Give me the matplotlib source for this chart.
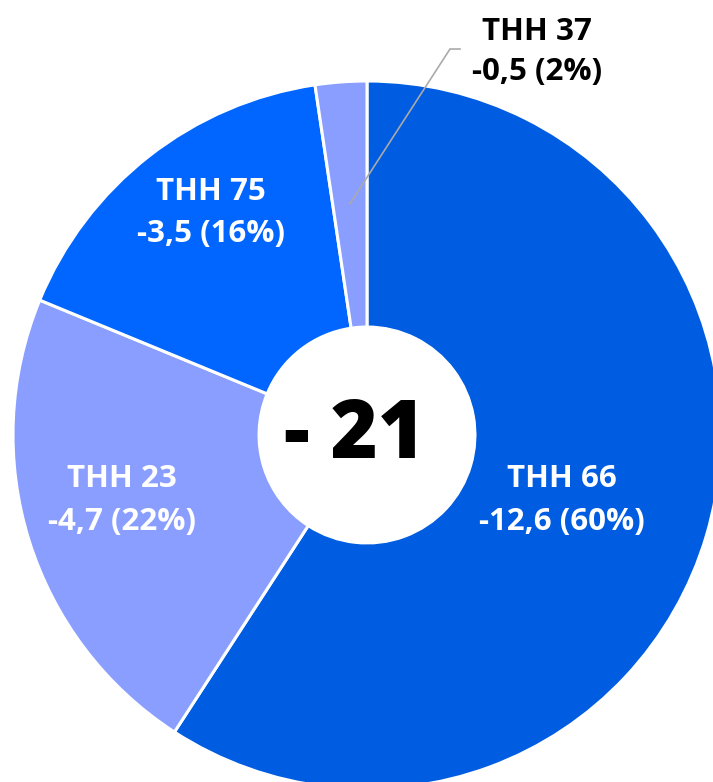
"""Donut chart: THH shares of total -21."""

import matplotlib.pyplot as plt
import numpy as np

plt.rcParams["font.family"] = ["Open Sans", "DejaVu Sans"]

# data
names = ["THH 66", "THH 23", "THH 75", "THH 37"]
values = [12.6, 4.7, 3.5, 0.5]
percents = [60, 22, 16, 2]
total_label = "- 21"
colors = ["#005ce0", "#8a9eff", "#0066ff", "#8a9eff"]

# pixel layout helpers (center of pie at px (367, 435), radius 354 px)
W, H = 713, 782
CX, CY, R = 367, 435, 354


def to_data(px, py):
    return (px - CX) / R, (CY - py) / R


fig = plt.figure(figsize=(W / 100, H / 100), dpi=100)
ax = fig.add_axes([0, 0, 1, 1])

wedges, _ = ax.pie(
    values,
    colors=colors,
    startangle=90,
    counterclock=False,
    radius=1.0,
    wedgeprops=dict(width=0.695, edgecolor="white", linewidth=2.2),
)

ax.set_xlim(-CX / R, (W - CX) / R)
ax.set_ylim((CY - H) / R, CY / R)
ax.set_aspect("equal")
ax.axis("off")

# label positions (px): x center, baseline of first line, baseline of second line
label_pos = [(562, 487, 530), (122, 487, 530), (211, 200, 242), (537, 40, 80)]
label_col = ["white", "white", "white", "black"]

for name, v, p, (lx, b1, b2), c in zip(names, values, percents, label_pos, label_col):
    x, y1 = to_data(lx, b1)
    _, y2 = to_data(lx, b2)
    val = f"-{v:.1f}".replace(".", ",")
    ax.text(x, y1, name, color=c, fontsize=22.5, fontweight="bold",
            ha="center", va="baseline")
    ax.text(x, y2, f"{val} ({p}%)", color=c, fontsize=22.5, fontweight="bold",
            ha="center", va="baseline")

# leader line for the small slice
w = wedges[3]
mid = np.deg2rad((w.theta1 + w.theta2) / 2)
x0, y0 = 0.655 * np.cos(mid), 0.655 * np.sin(mid)
xa, ya = to_data(450, 49)
xb, _ = to_data(460, 49)
ax.plot([x0, xa, xb], [y0, ya, ya], color="#aaaaaa", linewidth=1.2,
        solid_joinstyle="miter")

# center total
tx, ty = to_data(354, 458)
ax.text(tx, ty, total_label, color="black", fontsize=58, fontweight="heavy",
        ha="center", va="baseline")

fig.savefig("out.png", dpi=100)
